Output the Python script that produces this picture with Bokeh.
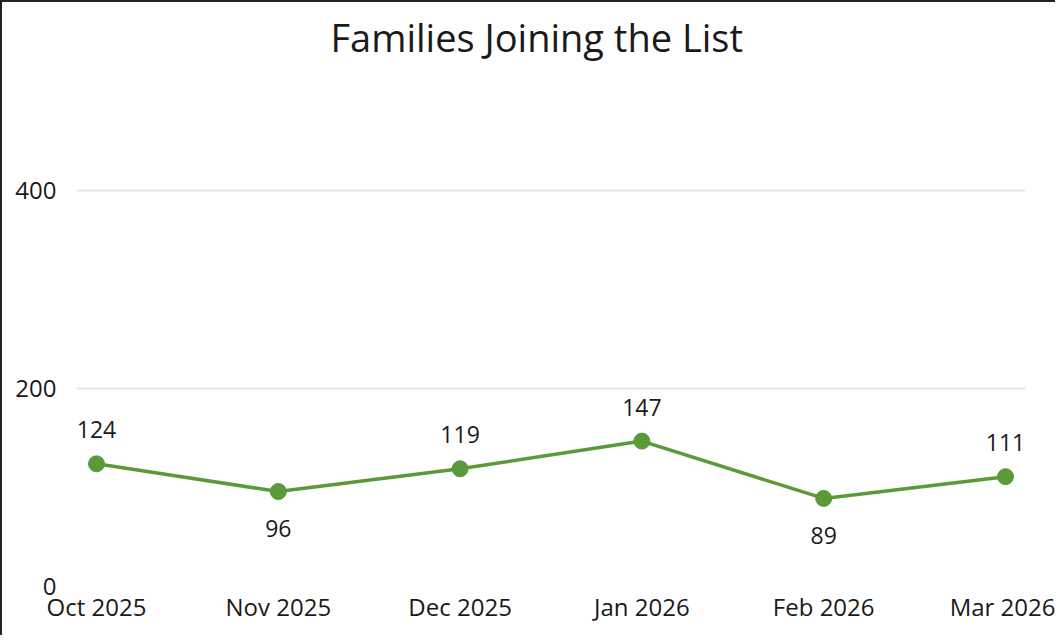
from bokeh.plotting import figure
from bokeh.models import FixedTicker, ColumnDataSource, Range1d, Title
from bokeh.core.properties import value
from bokeh.embed import file_html
from bokeh.resources import INLINE

months = ["Oct 2025", "Nov 2025", "Dec 2025", "Jan 2026", "Feb 2026", "Mar 2026"]
families = [124, 96, 119, 147, 89, 111]
label_above = [True, False, True, True, False, True]
y_ticks = [0, 200, 400]

FONT = "Open Sans"
GREEN = "#5a9a38"
TEXT = "#1a1a1a"

x = list(range(len(months)))
src = ColumnDataSource(dict(x=x, y=families))
above = ColumnDataSource(dict(x=[i for i in x if label_above[i]],
                              y=[families[i] for i in x if label_above[i]],
                              lbl=[str(families[i]) for i in x if label_above[i]]))
below = ColumnDataSource(dict(x=[i for i in x if not label_above[i]],
                              y=[families[i] for i in x if not label_above[i]],
                              lbl=[str(families[i]) for i in x if not label_above[i]]))

p = figure(width=1055, height=635, output_backend="svg", toolbar_location=None,
           x_range=Range1d(-0.11, 5.11), y_range=Range1d(0, 523.6),
           min_border_left=74, min_border_right=32, min_border_top=62, min_border_bottom=51)

p.title = Title(text="Families Joining the List", align="left", offset=254,
                text_font=FONT, text_font_size="38px", text_font_style="normal",
                text_color=TEXT, standoff=12)

p.line("x", "y", source=src, line_color=GREEN, line_width=3.5)
p.scatter("x", "y", source=src, size=16, fill_color=GREEN, line_color=GREEN)

p.text("x", "y", text="lbl", source=above, text_align="center", text_baseline="middle",
       y_offset=-34, text_font=value(FONT), text_font_size="23px", text_color=TEXT)
p.text("x", "y", text="lbl", source=below, text_align="center", text_baseline="middle",
       y_offset=37, text_font=value(FONT), text_font_size="23px", text_color=TEXT)

p.xaxis.ticker = FixedTicker(ticks=x)
p.xaxis.major_label_overrides = {i: m for i, m in enumerate(months)}
p.yaxis.ticker = FixedTicker(ticks=y_ticks)

for ax in (p.xaxis, p.yaxis):
    ax.axis_line_color = None
    ax.major_tick_line_color = None
    ax.minor_tick_line_color = None
    ax.major_tick_out = 0
    ax.major_tick_in = 0
    ax.major_label_text_font = FONT
    ax.major_label_text_font_size = "24px"
    ax.major_label_text_color = TEXT
p.xaxis.major_label_standoff = 3
p.yaxis.major_label_standoff = 20

p.xgrid.grid_line_color = None
p.ygrid.grid_line_color = "#e6e6e6"
p.ygrid.grid_line_width = 2
p.outline_line_color = None
p.background_fill_color = "white"
p.border_fill_color = "white"
p.styles = {"border-left": "2px solid #222", "border-top": "2px solid #222"}

open("out.html", "w").write(file_html(p, INLINE))
